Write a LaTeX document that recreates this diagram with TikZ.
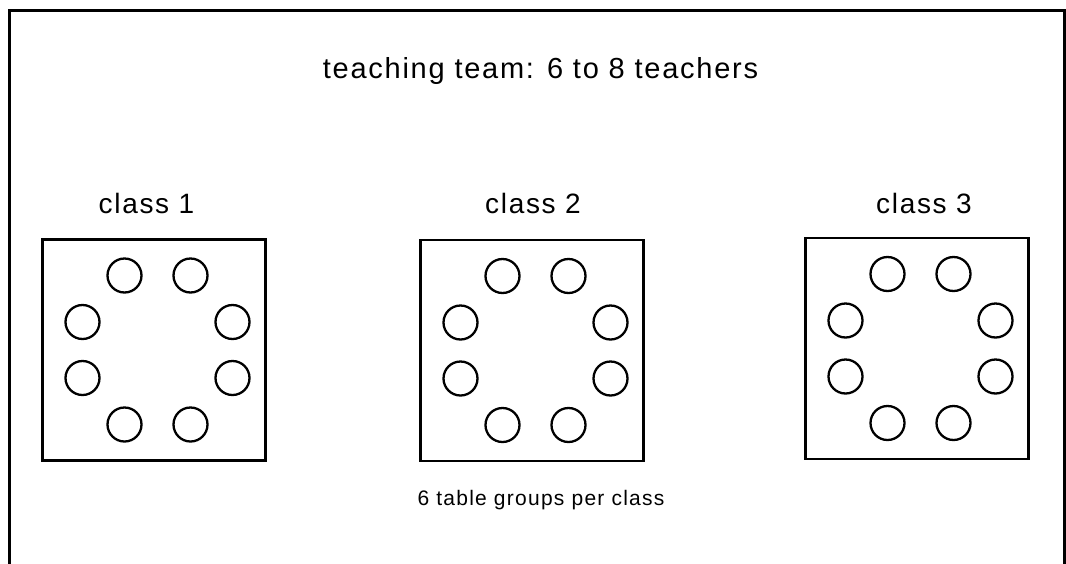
\documentclass[tikz,border=0pt]{standalone}
\usepackage{fontspec}
\setmainfont{Liberation Sans}[LetterSpace=6]
\usetikzlibrary{calc}
\begin{document}
\begin{tikzpicture}[x=1pt,y=-1pt,
  frame/.style={line width=3pt},
  roombox/.style={draw,line width=2.6pt,rectangle,minimum width=223pt,minimum height=221pt,inner sep=0pt},
  tablegroup/.style={draw,line width=2.3pt,circle,minimum size=34pt,inner sep=0pt},
  caption/.style={anchor=base,inner sep=0pt}]
\useasboundingbox (0,0) rectangle (1066,563);

% open frame around the whole scheme
\coordinate (fbl) at (9.5,570);
\coordinate (ftl) at (9.5,10);
\coordinate (ftr) at (1064.5,10);
\coordinate (fbr) at (1064.5,570);
\draw[frame] (fbl) -- (ftl) -- (ftr) -- (fbr);

\node[caption,font=\fontsize{29}{34}\selectfont] (team) at (540.5,78) {teaching team: 6 to 8 teachers};

% one classroom: box plus eight table groups
\newcommand\classroom[4]{%
  \node[roombox] (room#1) at (#2,#3) {};
  \foreach \dx/\dy [count=\k] in {-33/-74.5,33/-74.5,-75/-28,75/-28,-75/28,75/28,-33/74.5,33/74.5}
    \node[tablegroup] (t#1\k) at ($(room#1.center)+(3.5+\dx,\dy)$) {};
  \node[caption,font=\fontsize{28}{32}\selectfont] (cl#1) at (#4,213) {class #1};
}
\classroom{1}{154}{350}{146.5}
\classroom{2}{532}{350.5}{533}
\classroom{3}{917}{348.5}{924}

\node[caption,font=\fontsize{21}{25}\selectfont] (note) at (541,505) {6 table groups per class};
\end{tikzpicture}
\end{document}
